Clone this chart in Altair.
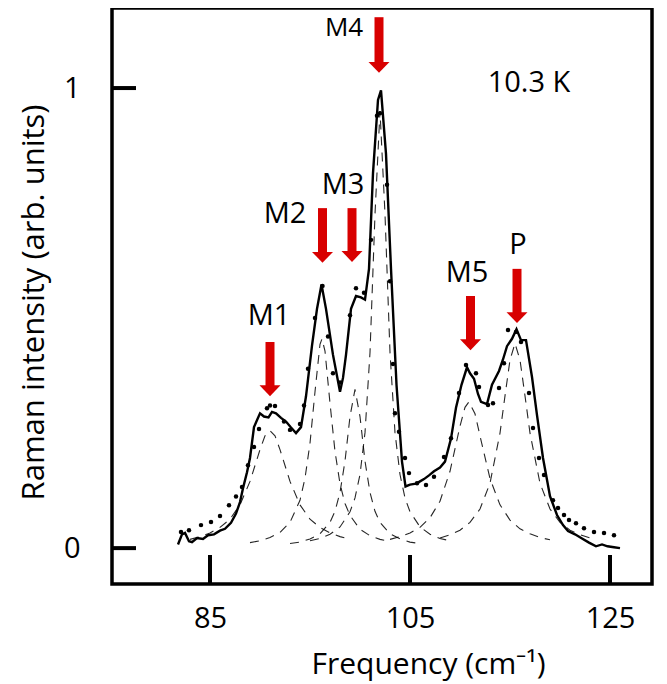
import altair as alt
import pandas as pd

# ---------------- data ----------------
# measured spectrum (solid line)
solid_x = [81.8, 82.2, 82.5, 82.9, 83.2, 83.7, 84.3, 84.8, 85.4, 86.0, 86.5, 87.1, 87.6, 88.0,
           88.3, 88.7, 89.0, 89.4, 90.0, 90.4, 90.85, 91.2, 91.6, 92.1, 92.6, 93.1, 93.6, 94.1,
           94.6, 95.2, 95.7, 96.15, 96.6, 97.3, 98.0, 98.3, 98.6, 99.1, 99.6, 100.1, 100.5, 100.9,
           101.3, 101.8, 102.1, 102.6, 103.1, 103.65, 104.2, 104.55, 105.0, 105.6, 106.0, 106.4,
           106.9, 107.4, 108.0, 108.5, 109.1, 109.6, 110.15, 110.7, 111.0, 111.4, 111.8, 112.1,
           112.7, 113.2, 113.9, 114.3, 114.7, 115.2, 115.65, 116.1, 116.6, 117.2, 117.7, 118.3,
           119.0, 119.7, 120.3, 120.8, 121.5, 122.2, 122.9, 123.6, 124.2, 124.75, 125.4, 126.0]
solid_y = [0.008, 0.030, 0.033, 0.015, 0.013, 0.022, 0.020, 0.028, 0.030, 0.038, 0.042, 0.055,
           0.075, 0.100, 0.130, 0.165, 0.196, 0.263, 0.293, 0.286, 0.284, 0.296, 0.293, 0.283,
           0.275, 0.262, 0.250, 0.263, 0.330, 0.440, 0.520, 0.573, 0.520, 0.420, 0.340, 0.370,
           0.420, 0.520, 0.548, 0.545, 0.540, 0.607, 0.815, 0.974, 0.995, 0.857, 0.607, 0.355,
           0.188, 0.134, 0.138, 0.140, 0.145, 0.150, 0.158, 0.167, 0.175, 0.188, 0.238, 0.305,
           0.355, 0.393, 0.380, 0.368, 0.335, 0.318, 0.313, 0.355, 0.385, 0.410, 0.439, 0.455,
           0.476, 0.452, 0.452, 0.372, 0.289, 0.196, 0.113, 0.072, 0.050, 0.037, 0.030, 0.021,
           0.012, 0.004, 0.008, 0.004, 0.002, 0.000]

# fitted sum (dots)
dot_x = [82.1, 82.9, 84.1, 85.1, 86.0, 86.9, 87.6, 88.2, 88.8, 89.4, 89.9, 90.7, 91.0, 91.5,
         92.4, 93.0, 94.0, 94.4, 94.8, 95.5, 96.25, 96.8, 97.3, 98.0, 99.0, 99.6, 100.4, 101.1,
         101.7, 102.0, 102.7, 103.0, 103.3, 103.5, 103.9, 104.5, 104.9, 105.7, 106.6, 107.4,
         108.4, 109.1, 109.9, 110.6, 111.6, 111.9, 112.8, 113.3, 113.9, 114.4, 114.8, 115.6,
         116.1, 116.9, 117.3, 117.9, 118.4, 119.3, 119.8, 120.4, 120.9, 121.6, 122.4, 123.4,
         124.4, 125.4]
dot_y = [0.035, 0.039, 0.050, 0.057, 0.070, 0.093, 0.112, 0.133, 0.180, 0.220, 0.259, 0.304,
         0.310, 0.309, 0.275, 0.257, 0.270, 0.310, 0.390, 0.500, 0.570, 0.460, 0.380, 0.360,
         0.506, 0.565, 0.555, 0.670, 0.940, 0.945, 0.790, 0.580, 0.400, 0.293, 0.253, 0.196,
         0.163, 0.141, 0.137, 0.155, 0.198, 0.239, 0.337, 0.398, 0.380, 0.350, 0.311, 0.315,
         0.348, 0.402, 0.474, 0.470, 0.448, 0.337, 0.261, 0.196, 0.159, 0.104, 0.087, 0.072,
         0.061, 0.054, 0.043, 0.035, 0.033, 0.028]

# fitted components (dashed)
m1_x = [83, 84, 85, 86, 87, 88, 89, 90, 90.5, 91, 91.5, 92, 93, 94, 95, 96, 97, 98, 99]
m1_y = [0.019, 0.025, 0.033, 0.045, 0.063, 0.094, 0.145, 0.214, 0.244, 0.255, 0.244, 0.214,
        0.145, 0.094, 0.063, 0.045, 0.033, 0.025, 0.019]
m2_x = [89, 90, 91, 92, 93, 94, 94.5, 95, 95.5, 96, 96.2, 96.5, 97, 97.5, 98, 98.5, 99, 100,
        101, 102, 103]
m2_y = [0.012, 0.016, 0.023, 0.034, 0.056, 0.104, 0.152, 0.228, 0.340, 0.443, 0.455, 0.428,
        0.315, 0.210, 0.140, 0.097, 0.071, 0.041, 0.027, 0.019, 0.014]
m3_x = [93, 94, 95, 96, 97, 97.5, 98, 98.5, 99, 99.5, 100, 100.5, 101, 101.5, 102, 103, 104,
        105, 106]
m3_y = [0.010, 0.013, 0.020, 0.031, 0.056, 0.080, 0.121, 0.189, 0.286, 0.345, 0.286, 0.189,
        0.121, 0.080, 0.056, 0.031, 0.020, 0.013, 0.010]
m4_x = [95, 96, 97, 98, 99, 99.5, 100, 100.5, 101, 101.5, 102, 102.5, 103, 103.5, 104, 104.5,
        105, 106, 107, 108, 109]
m4_y = [0.016, 0.021, 0.030, 0.046, 0.079, 0.109, 0.160, 0.251, 0.425, 0.726, 0.950, 0.726,
        0.425, 0.251, 0.160, 0.109, 0.079, 0.046, 0.030, 0.021, 0.016]
m5_x = [103, 104, 105, 106, 107, 108, 109, 110, 110.5, 110.9, 111.5, 112, 113, 114, 115, 116,
        117, 118, 119]
m5_y = [0.019, 0.025, 0.033, 0.045, 0.066, 0.102, 0.167, 0.265, 0.306, 0.318, 0.292, 0.244,
        0.151, 0.094, 0.061, 0.042, 0.031, 0.023, 0.018]
p_x = [108, 109, 110, 111, 112, 113, 114, 114.5, 115, 115.5, 116, 116.5, 117, 118, 119, 120,
       121, 122, 123]
p_y = [0.022, 0.029, 0.039, 0.056, 0.085, 0.141, 0.250, 0.331, 0.409, 0.445, 0.409, 0.331,
       0.250, 0.141, 0.085, 0.056, 0.039, 0.029, 0.022]

# mode arrows and labels
arrow_x = [91.0, 96.25, 99.2, 101.9, 111.05, 115.7]
arrow_top = [0.448, 0.739, 0.739, 1.154, 0.548, 0.607]
arrow_tip = [0.330, 0.620, 0.622, 1.033, 0.430, 0.489]

ann_text = ["M1", "M2", "M3", "M4", "M5", "P", "10.3 K"]
ann_x = [90.9, 92.5, 98.3, 98.4, 110.7, 115.8, 116.9]
ann_y = [0.485, 0.707, 0.770, 1.113, 0.578, 0.639, 0.991]

x_ticks = [85, 105, 125]
y_ticks = [0, 1]

# ---------------- tables ----------------
solid_df = pd.DataFrame({"x": solid_x, "y": solid_y})
dot_df = pd.DataFrame({"x": dot_x, "y": dot_y})
comps = []
for name, xs_, ys_ in [("M1", m1_x, m1_y), ("M2", m2_x, m2_y), ("M3", m3_x, m3_y),
                       ("M4", m4_x, m4_y), ("M5", m5_x, m5_y), ("P", p_x, p_y)]:
    comps.append(pd.DataFrame({"x": xs_, "y": ys_, "comp": name}))
comp_df = pd.concat(comps, ignore_index=True)

HEAD = 0.024  # head height in data units
arrow_df = pd.DataFrame({
    "x": arrow_x,
    "y": arrow_top,
    "y2": [t + HEAD - 0.002 for t in arrow_tip],
    "yh": [t + HEAD / 2 for t in arrow_tip],
})
ann_df = pd.DataFrame({"x": ann_x, "y": ann_y, "t": ann_text})
xt_df = pd.DataFrame({"x": x_ticks})
yt_df = pd.DataFrame({"y": y_ticks})

W, H = 540, 576
FONT = "Open Sans"
xs = alt.Scale(domain=[75.2, 129.2], nice=False, zero=False)
ys = alt.Scale(domain=[-0.078, 1.174], nice=False, zero=False)
RED = "#d80000"

x_axis = alt.Axis(values=x_ticks, ticks=False, tickSize=0, domain=False, grid=False,
                  format="d",
                  labelFont=FONT, labelFontSize=29, labelColor="black", labelPadding=20,
                  labelBaseline="top",
                  title="Frequency (cm⁻¹)", titleFont=FONT, titleFontSize=30,
                  titleFontWeight="normal", titleColor="black",
                  titleX=316, titleY=89, titleAlign="center", titleBaseline="alphabetic")
y_axis = alt.Axis(values=y_ticks, ticks=False, tickSize=0, domain=False, grid=False,
                  format="d",
                  labelFont=FONT, labelFontSize=29, labelColor="black", labelPadding=32,
                  title="Raman intensity (arb. units)", titleFont=FONT, titleFontSize=31,
                  titleFontWeight="normal", titleColor="black", titleAngle=270,
                  titleX=-69, titleY=294, titleAlign="center", titleBaseline="alphabetic")

X = alt.X("x:Q", scale=xs, axis=x_axis)
Y = alt.Y("y:Q", scale=ys, axis=y_axis)

comp_layer = alt.Chart(comp_df).mark_line(
    strokeDash=[9, 7], strokeWidth=1.1, color="black", opacity=0.85
).encode(x=X, y=Y, detail="comp:N")

solid_layer = alt.Chart(solid_df).mark_line(strokeWidth=2.4, color="black").encode(x=X, y=Y)

dot_layer = alt.Chart(dot_df).mark_circle(size=20, color="black", opacity=1).encode(x=X, y=Y)

xtick_layer = alt.Chart(xt_df).mark_rule(strokeWidth=4, color="black").encode(
    x=X, y=alt.value(H), y2=alt.value(H - 29),
)
ytick_layer = alt.Chart(yt_df).mark_rule(strokeWidth=4, color="black").encode(
    y=Y, x=alt.value(0), x2=alt.value(24),
)

shaft_layer = alt.Chart(arrow_df).mark_rule(strokeWidth=9, color=RED).encode(
    x=X, y=Y, y2="y2:Q",
)
head_layer = alt.Chart(arrow_df).mark_point(
    shape="M-1,-0.52L1,-0.52L0,0.52Z", filled=True, size=441, color=RED, opacity=1
).encode(x=X, y=alt.Y("yh:Q", scale=ys, axis=y_axis))

text_layer = alt.Chart(ann_df).mark_text(
    font=FONT, color="black", align="center", baseline="alphabetic"
).encode(
    x=X, y=Y, text="t:N",
    size=alt.condition(alt.datum.t == "M4", alt.value(26), alt.value(29)),
)

chart = alt.layer(
    comp_layer, solid_layer, dot_layer, xtick_layer, ytick_layer,
    shaft_layer, head_layer, text_layer
).properties(
    width=W, height=H,
    autosize=alt.AutoSizeParams(type="none"),
    padding={"left": 104, "top": 0, "right": 7, "bottom": 100},
    background="white",
).configure_view(
    stroke="black", strokeWidth=3.5
)

chart.save("out.html", embed_options={"renderer": "svg", "actions": False})
